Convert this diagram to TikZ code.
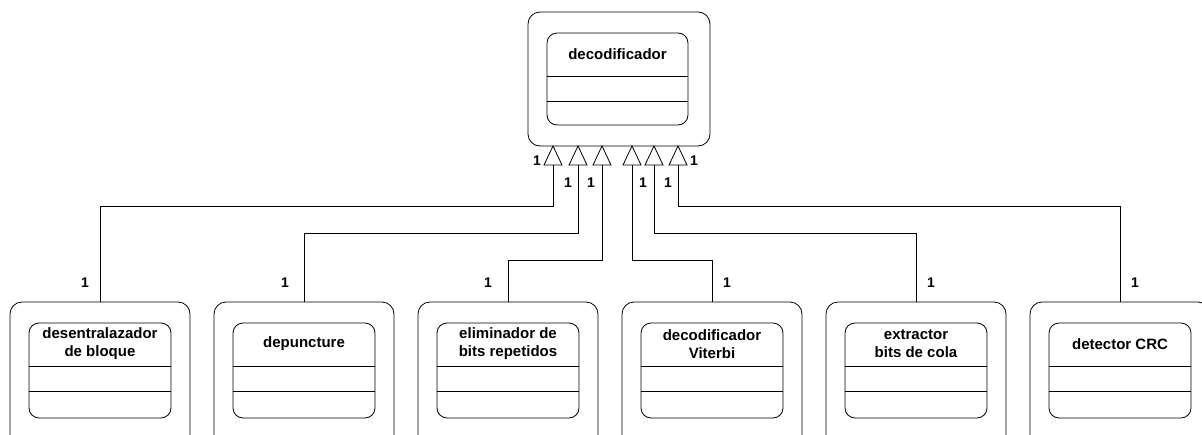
\documentclass[tikz,border=0pt]{standalone}
\usepackage{fontspec}
\setmainfont{Liberation Sans}
\usetikzlibrary{calc}
\begin{document}
\begin{tikzpicture}[x=1pt,y=-1pt,
  outerbox/.style={draw, rounded corners=12pt, line width=0.8pt, inner sep=0pt, minimum width=180pt},
  classbox/.style={draw, rounded corners=10pt, line width=0.8pt, inner sep=0pt, minimum width=142pt, minimum height=95pt},
  classname/.style={font=\bfseries\fontsize{15}{18}\selectfont, align=center, inner sep=0pt},
  mult/.style={font=\bfseries\fontsize{14}{14}\selectfont, inner sep=0pt},
  link/.style={line width=0.8pt},
  gen/.style={draw, fill=white, line width=0.8pt, line join=miter}]
\useasboundingbox (0,0) rectangle (1202,434);
\clip (0,0) rectangle (1202,434);

% superclass
\node[outerbox, minimum width=182pt, minimum height=134pt] (top) at (619,79) {};
\node[classbox, minimum width=141pt, minimum height=92pt] (topc) at (617.5,79) {};
\node[classname] (topn) at (617.5,54) {decodificador};
\draw[link] ([yshift=-44pt]topc.north west) -- ([yshift=-44pt]topc.north east);
\draw[link] ([yshift=-69pt]topc.north west) -- ([yshift=-69pt]topc.north east);

% subclasses
\foreach \i/\name in {1/{desentralazador\\de bloque},2/{depuncture},3/{eliminador de\\bits repetidos},4/{decodificador\\Viterbi},5/{extractor\\bits de cola},6/{detector CRC}}{
  \pgfmathsetmacro{\cx}{100+204*(\i-1)}
  \node[outerbox, minimum height=170pt] (b\i) at (\cx,387) {};
  \node[classbox] (c\i) at (\cx,370.5) {};
  \node[classname] (n\i) at (\cx,344) {\name};
  \draw[link] ([yshift=-44pt]c\i.north west) -- ([yshift=-44pt]c\i.north east);
  \draw[link] ([yshift=-69pt]c\i.north west) -- ([yshift=-69pt]c\i.north east);
}

% generalization arrowheads under the superclass
\foreach \i/\gx in {1/553,2/578,3/602,4/632,5/654,6/678}{
  \coordinate (g\i) at (\gx,165);
  \draw[gen] (\gx,146) -- (\gx-9,165) -- (\gx+9,165) -- cycle;
}

% connector levels
\coordinate (h1) at (0,206);
\coordinate (h2) at (0,233);
\coordinate (h3) at (0,260);

\draw[link] (g1) -- (g1 |- h1) -| (b1.north);
\draw[link] (g2) -- (g2 |- h2) -| (b2.north);
\draw[link] (g3) -- (g3 |- h3) -| (b3.north);
\draw[link] (g4) -- (g4 |- h3) -| (b4.north);
\draw[link] (g5) -- (g5 |- h2) -| (b5.north);
\draw[link] (g6) -- (g6 |- h1) -| (b6.north);

% multiplicities
\node[mult] (m1) at (537,161) {1};
\node[mult] (m2) at (568,183) {1};
\node[mult] (m3) at (591,183) {1};
\node[mult] (m4) at (643,183) {1};
\node[mult] (m5) at (668,183) {1};
\node[mult] (m6) at (694,161) {1};
\node[mult] (k1) at (85,283) {1};
\node[mult] (k2) at (285,283) {1};
\node[mult] (k3) at (488,283) {1};
\node[mult] (k4) at (727,283) {1};
\node[mult] (k5) at (931,283) {1};
\node[mult] (k6) at (1135,283) {1};
\end{tikzpicture}
\end{document}
